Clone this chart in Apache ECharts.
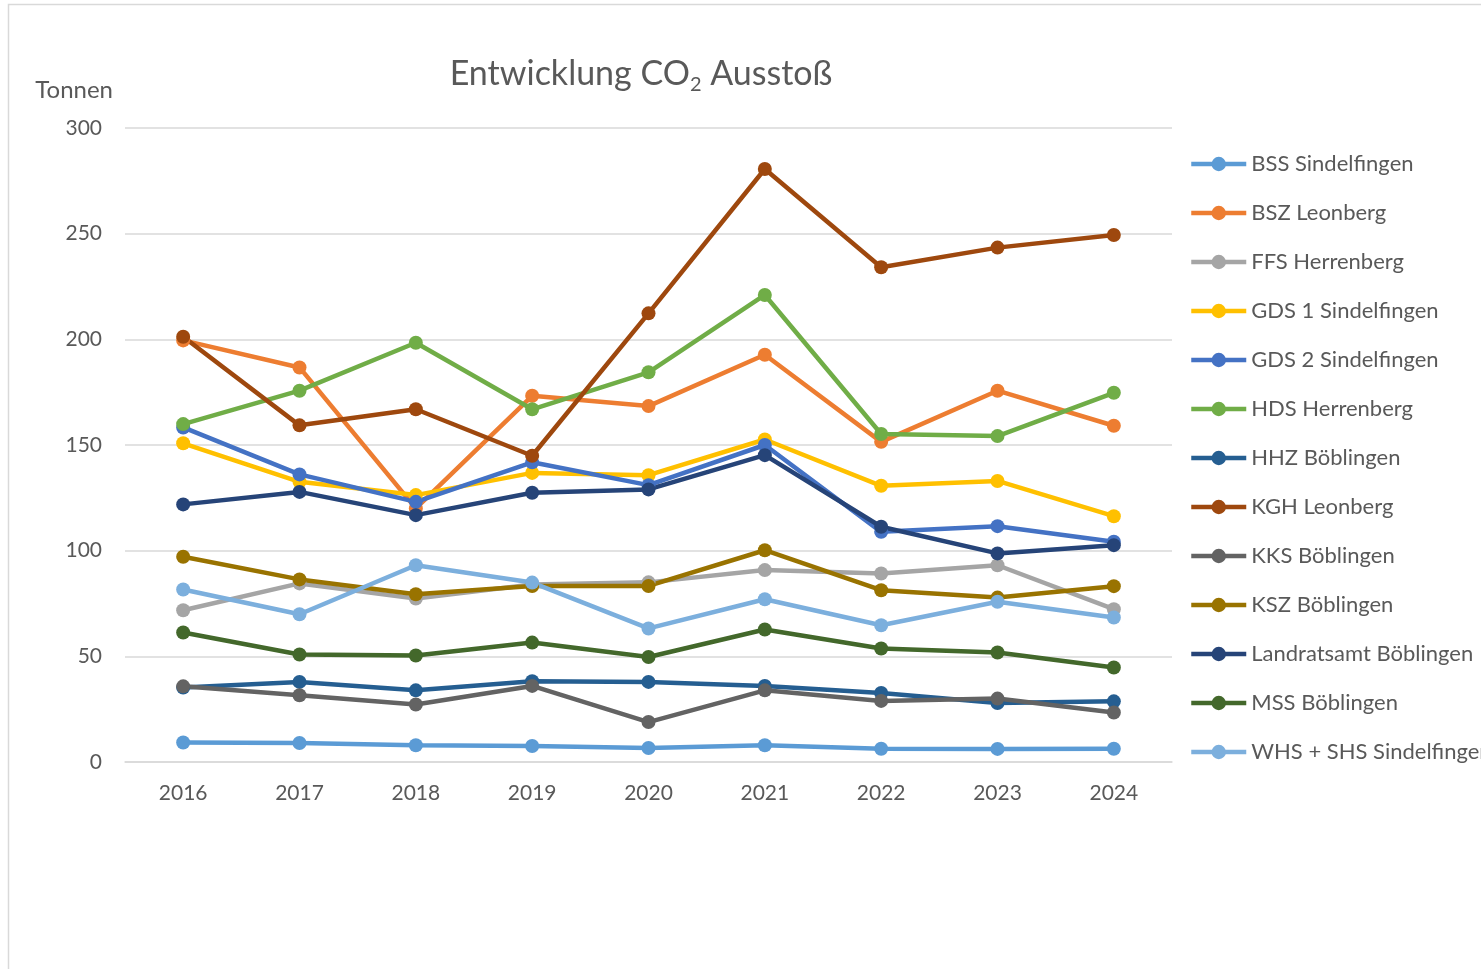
<!DOCTYPE html>
<html>
<head>
<meta charset="utf-8">
<script src="https://cdn.jsdelivr.net/npm/echarts@6/dist/echarts.min.js"></script>
<style>
  html, body { margin: 0; padding: 0; background: #fff; }
  #chart { width: 1481px; height: 969px; }
</style>
</head>
<body>
<div id="chart"></div>
<script>
// Werte in Tonnen
const years = ['2016', '2017', '2018', '2019', '2020', '2021', '2022', '2023', '2024'];
const yTicks = [0, 50, 100, 150, 200, 250, 300];

const bssSindelfingen = [9.2, 9.0, 7.9, 7.6, 6.6, 7.9, 6.3, 6.2, 6.3];
const bszLeonberg = [199.5, 186.7, 120.0, 173.3, 168.4, 192.7, 151.5, 175.7, 159.1];
const ffsHerrenberg = [71.8, 84.5, 77.4, 84.0, 85.0, 90.8, 89.2, 93.1, 72.3];
const gds1Sindelfingen = [150.8, 132.6, 126.3, 136.8, 135.7, 152.6, 130.7, 133.0, 116.3];
const gds2Sindelfingen = [158.3, 136.1, 123.1, 141.8, 131.0, 150.0, 108.9, 111.6, 104.2];
const hdsHerrenberg = [159.9, 175.7, 198.4, 166.9, 184.4, 221.0, 155.2, 154.2, 174.7];
const hhzBoeblingen = [35.2, 37.9, 33.9, 38.2, 37.9, 36.0, 32.7, 27.9, 28.7];
const kghLeonberg = [201.2, 159.3, 166.9, 144.9, 212.3, 280.6, 234.1, 243.4, 249.4];
const kksBoeblingen = [35.8, 31.6, 27.2, 36.0, 18.9, 33.9, 28.9, 30.0, 23.4];
const kszBoeblingen = [97.1, 86.4, 79.4, 83.3, 83.3, 100.2, 81.3, 77.8, 83.2];
const landratsamt = [121.9, 127.8, 116.8, 127.4, 129.0, 145.2, 111.3, 98.7, 102.6];
const mssBoeblingen = [61.3, 50.9, 50.4, 56.5, 49.7, 62.7, 53.7, 51.8, 44.7];
const whsShs = [81.6, 69.9, 93.1, 84.9, 63.2, 77.0, 64.7, 75.8, 68.4];

const seriesNames = ['BSS Sindelfingen', 'BSZ Leonberg', 'FFS Herrenberg', 'GDS 1 Sindelfingen',
  'GDS 2 Sindelfingen', 'HDS Herrenberg', 'HHZ Böblingen', 'KGH Leonberg', 'KKS Böblingen',
  'KSZ Böblingen', 'Landratsamt Böblingen', 'MSS Böblingen', 'WHS + SHS Sindelfingen'];
const seriesData = [bssSindelfingen, bszLeonberg, ffsHerrenberg, gds1Sindelfingen, gds2Sindelfingen,
  hdsHerrenberg, hhzBoeblingen, kghLeonberg, kksBoeblingen, kszBoeblingen, landratsamt,
  mssBoeblingen, whsShs];
const colors = ['#5B9BD5', '#ED7D31', '#A5A5A5', '#FFC000', '#4472C4', '#70AD47', '#255E91',
  '#9E480E', '#636363', '#997300', '#264478', '#43682B', '#7CAFDD'];

const font = 'Lato, "Open Sans", sans-serif';
const textColor = '#595959';

const chart = echarts.init(document.getElementById('chart'));

let option = {
  animation: false,
  color: colors,
  textStyle: { fontFamily: font },
  graphic: [{
    type: 'rect',
    shape: { x: 8.5, y: 4.5, width: 1490, height: 980 },
    style: { fill: 'none', stroke: '#D9D9D9', lineWidth: 1.5 },
    silent: true
  }],
  title: {
    text: '{m|Entwicklung CO}{s|2}{m| Ausstoß}',
    left: 636,
    top: 48,
    textAlign: 'center',
    textStyle: {
      fontWeight: 'normal',
      rich: {
        m: { fontFamily: font, fontSize: 34, fontWeight: 'normal', color: textColor, lineHeight: 42, verticalAlign: 'middle' },
        s: { fontFamily: font, fontSize: 20, fontWeight: 'normal', color: textColor, lineHeight: 20, verticalAlign: 'bottom' }
      }
    }
  },
  legend: {
    orient: 'vertical',
    left: 1184,
    top: 148,
    itemWidth: 55,
    itemHeight: 18,
    itemGap: 27,
    lineStyle: { width: 4.5 },
    textStyle: { fontFamily: font, fontSize: 22, color: textColor },
    data: seriesNames
  },
  grid: {
    left: 125,
    right: 309,
    top: 128,
    bottom: 207
  },
  xAxis: {
    type: 'category',
    data: years,
    boundaryGap: true,
    axisLine: { lineStyle: { color: '#D9D9D9', width: 1.5 } },
    axisTick: { show: false },
    axisLabel: { fontFamily: font, fontSize: 21, color: textColor, margin: 21 }
  },
  yAxis: {
    type: 'value',
    min: yTicks[0],
    max: yTicks[yTicks.length - 1],
    interval: 50,
    name: 'Tonnen',
    nameLocation: 'end',
    nameGap: 26,
    nameTextStyle: { fontFamily: font, fontSize: 24, color: textColor, align: 'right', padding: [0, 12, 0, 0] },
    axisLine: { show: false },
    axisTick: { show: false },
    axisLabel: { fontFamily: font, fontSize: 21, color: textColor, margin: 23 },
    splitLine: { lineStyle: { color: '#D9D9D9', width: 1.5 } }
  },
  series: seriesNames.map((name, i) => ({
    name: name,
    type: 'line',
    data: seriesData[i],
    symbol: 'circle',
    symbolSize: 14,
    lineStyle: { width: 4.5 },
    itemStyle: { color: colors[i] },
    emphasis: { disabled: true }
  }))
};

chart.setOption(option);
</script>
</body>
</html>
